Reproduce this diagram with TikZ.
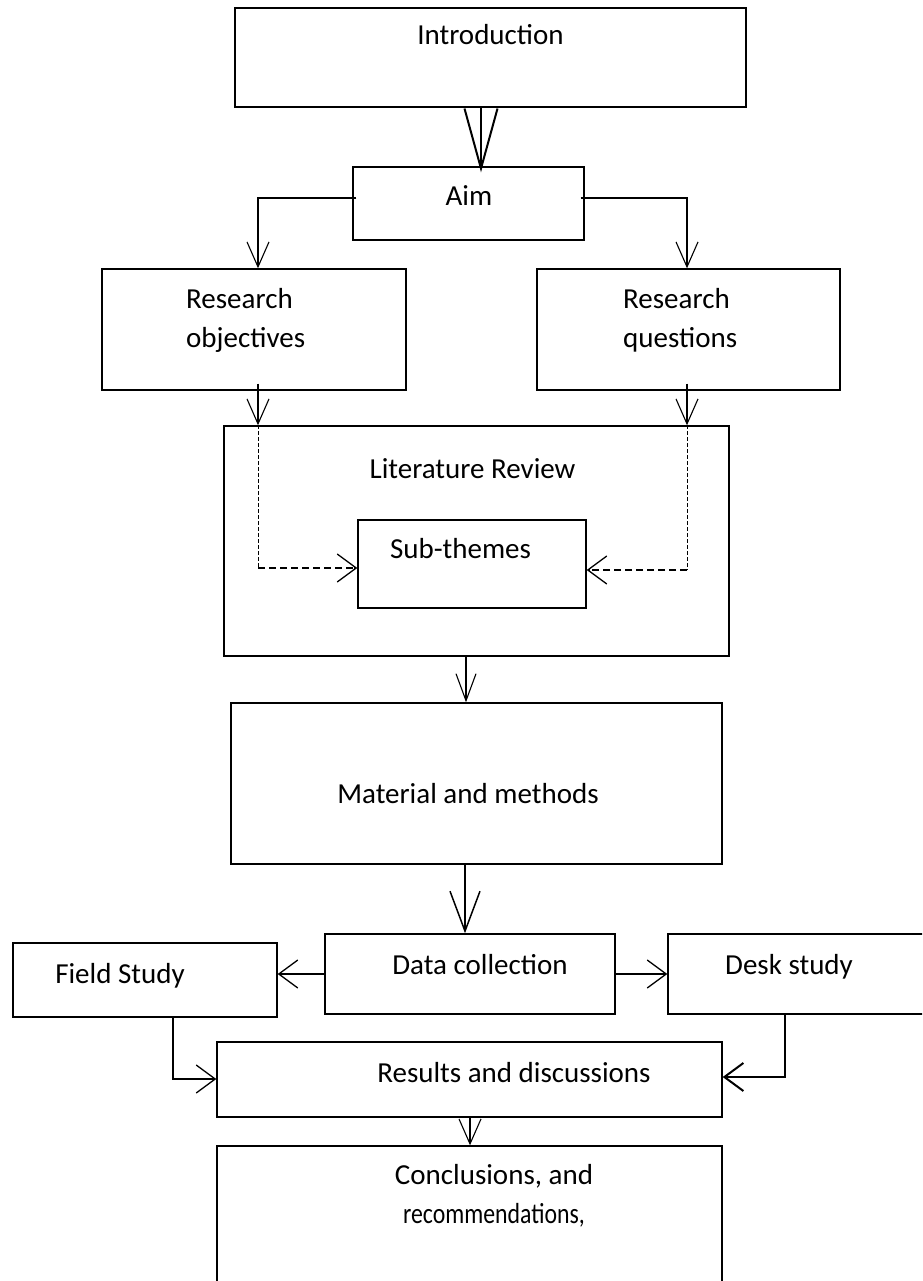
\documentclass[tikz,border=0pt]{standalone}
\usepackage{fontspec}
\setmainfont{Carlito}
\usepackage{graphicx}
\usetikzlibrary{arrows.meta}
\begin{document}
\begin{tikzpicture}[x=1pt,y=-1pt,
  box/.style={draw, line width=1.4pt, rectangle, inner sep=0pt},
  lbl/.style={inner sep=0pt, font=\fontsize{29pt}{39pt}\selectfont, anchor=base},
  arr/.style={line width=1.1pt, -{Straight Barb[length=25pt,width=22pt]}},
  midarr/.style={line width=1.1pt, -{Straight Barb[length=27pt,width=20pt]}},
  sidearr/.style={line width=1.3pt, -{Straight Barb[length=19pt,width=28pt]}},
  bigarr/.style={line width=2pt, -{Straight Barb[length=60pt,width=33pt]}},
  bigarrb/.style={line width=1.5pt, -{Straight Barb[length=40pt,width=30pt]}},
  thindash/.style={line width=1pt, dash pattern=on 4pt off 2pt},
  thickdash/.style={line width=2.6pt, dash pattern=on 7pt off 4pt}
]
\useasboundingbox (0,0) rectangle (922,1281);
\clip (0,0) rectangle (922,1281);

% rails
\coordinate (xa) at (481,0);
\coordinate (xl) at (258,0);
\coordinate (xr) at (687,0);
\coordinate (xm) at (466,0);
\coordinate (xd) at (465,0);
\coordinate (xf) at (173,0);
\coordinate (xk) at (785,0);
\coordinate (xc) at (470,0);
\coordinate (ya) at (0,198);
\coordinate (yds) at (0,568);
\coordinate (ydr) at (0,570);
\coordinate (yfr) at (0,1079);
\coordinate (ydk) at (0,1077);

% boxes
\node[box, minimum width=511pt, minimum height=99pt] (intro) at (490.5,57.5) {};
\node[box, minimum width=231pt, minimum height=73pt] (aim) at (468.5,203.5) {};
\node[box, minimum width=304pt, minimum height=121pt] (ro) at (254,329.5) {};
\node[box, minimum width=303pt, minimum height=121pt] (rq) at (688.5,329.5) {};
\node[box, minimum width=505pt, minimum height=230pt] (lr) at (476.5,541) {};
\node[box, minimum width=228pt, minimum height=88pt] (sub) at (472,564) {};
\node[box, minimum width=491pt, minimum height=161pt] (mm) at (476.5,783.5) {};
\node[box, minimum width=290pt, minimum height=80pt] (dc) at (470,974) {};
\node[box, minimum width=264pt, minimum height=74pt] (fs) at (145,980) {};
\node[box, minimum width=267pt, minimum height=80pt] (ds) at (801.5,974) {};
\node[box, minimum width=505pt, minimum height=75pt] (rd) at (469.5,1079.5) {};
\node[box, minimum width=505pt, minimum height=154pt] (conc) at (469.5,1223) {};

% labels (base anchor of a multi-line node = last line's baseline)
\node[lbl] (tintro) at (490.5,45) {Introduction};
\node[lbl] (taim) at (469,206) {Aim};
\node[lbl, anchor=base west, align=left] (tro) at (186,347) {Research\\objectives};
\node[lbl, anchor=base west, align=left] (trq) at (623,347) {Research\\questions};
\node[lbl] (tlr) at (472.5,478) {Literature Review};
\node[lbl] (tsub) at (460.5,558) {Sub-themes};
\node[lbl] (tmm) at (468,803) {Material and methods};
\node[lbl] (tfs) at (120,983) {Field Study};
\node[lbl] (tdc) at (480,974) {Data collection};
\node[lbl] (tds) at (789,974) {Desk study};
\node[lbl] (trd) at (514,1082) {Results and discussions};
\node[lbl, align=center] (tconc) at (494,1223) {Conclusions, and\\\scalebox{0.82}[1]{recommendations,}};

% connectors
\draw[bigarr] (intro.south -| xa) -- ([yshift=-6pt]aim.north -| xa);
\draw[arr] ([xshift=4pt]aim.west |- ya) -| (ro.north -| xl);
\draw[arr] ([xshift=-4pt]aim.east |- ya) -| (rq.north -| xr);
\draw[arr] ([yshift=7pt]ro.south -| xl) -- (lr.north -| xl);
\draw[arr] ([yshift=7pt]rq.south -| xr) -- (lr.north -| xr);
\draw[thindash] (lr.north -| xl) -- (xl |- yds);
\draw[thickdash] (xl |- yds) -- ([xshift=-3pt]sub.west |- yds);
\draw[sidearr] ([xshift=-3pt]sub.west |- yds) -- (sub.west |- yds);
\draw[thindash] (lr.north -| xr) -- (xr |- ydr);
\draw[thickdash] (xr |- ydr) -- ([xshift=3pt]sub.east |- ydr);
\draw[sidearr] ([xshift=3pt]sub.east |- ydr) -- (sub.east |- ydr);
\draw[midarr] (lr.south -| xm) -- (mm.north -| xm);
\draw[bigarrb] (mm.south -| xd) -- (dc.north -| xd);
\draw[sidearr] (dc.west) -- (fs.east |- dc.west);
\draw[sidearr] (dc.east) -- (ds.west |- dc.east);
\draw[sidearr] (fs.south -| xf) |- (rd.west |- yfr);
\draw[sidearr, line width=2pt] (ds.south -| xk) |- (rd.east |- ydk);
\draw[arr] (rd.south -| xc) -- (conc.north -| xc);
\end{tikzpicture}
\end{document}
